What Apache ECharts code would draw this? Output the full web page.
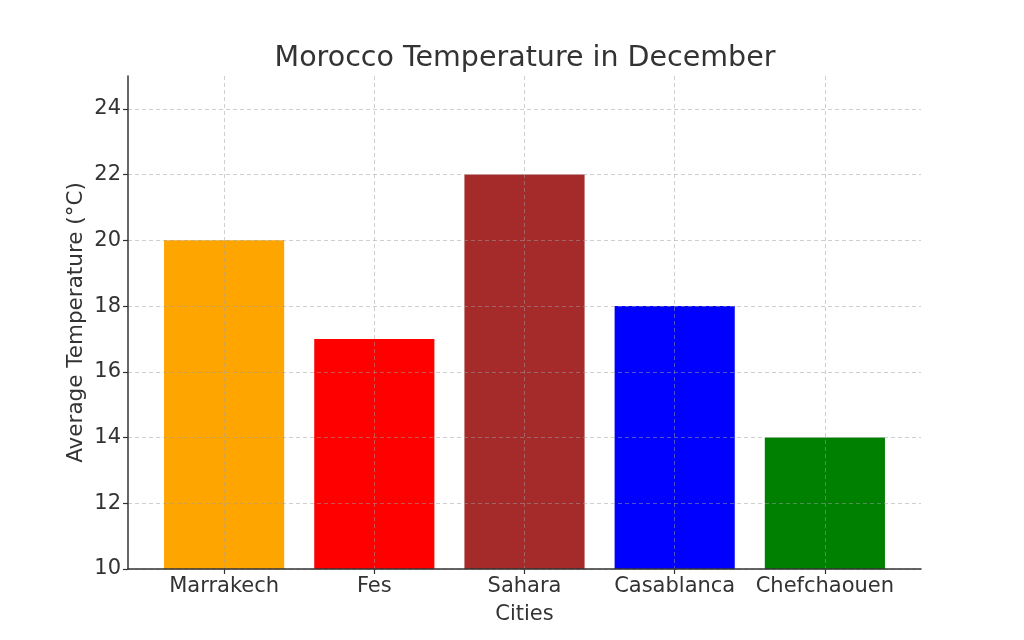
<!DOCTYPE html>
<html>
<head>
<meta charset="utf-8">
<script src="https://cdn.jsdelivr.net/npm/echarts@6/dist/echarts.min.js"></script>
<style>html,body{margin:0;padding:0;background:#fff}#c{width:1024px;height:640px}</style>
</head>
<body>
<div id="c"></div>
<script>
const cities = ['Marrakech', 'Fes', 'Sahara', 'Casablanca', 'Chefchaouen'];
const temps = [20, 17, 22, 18, 14];
const colors = ['#FFA500', '#FF0000', '#A52A2A', '#0000FF', '#008000'];
const yTicks = [10, 12, 14, 16, 18, 20, 22, 24];
const xTicks = [0, 1, 2, 3, 4];

const font = 'DejaVu Sans';
const txt = '#333333';
const chart = echarts.init(document.getElementById('c'), null, {renderer: 'canvas'});
chart.setOption({
  animation: false,
  backgroundColor: '#ffffff',
  title: {
    text: 'Morocco Temperature in December',
    left: 520, top: 39, textAlign: 'center',
    textStyle: {fontFamily: font, fontSize: 28.5, fontWeight: 'normal', color: txt}
  },
  grid: {left: 128, right: 103, top: 76, bottom: 71, containLabel: false},
  xAxis: {
    type: 'value', min: -0.64, max: 4.64, z: 5,
    name: 'Cities', nameLocation: 'middle', nameGap: 35,
    nameTextStyle: {fontFamily: font, fontSize: 21, color: txt},
    axisLine: {show: true, onZero: false, lineStyle: {color: '#333', width: 1.5}},
    axisTick: {show: true, customValues: xTicks, length: 5, lineStyle: {color: '#333', width: 1.2}},
    axisLabel: {customValues: xTicks, formatter: v => cities[Math.round(v)] || '', fontFamily: font, fontSize: 21, color: txt, margin: 7},
    splitLine: {show: true, lineStyle: {color: 'rgba(160,160,160,0.5)', type: [4, 3], width: 1}}
  },
  yAxis: {
    type: 'value', min: 10, max: 25, z: 5,
    name: 'Average Temperature (°C)', nameLocation: 'middle', nameGap: 41, nameRotate: 90,
    nameMoveOverlap: false,
    nameTextStyle: {fontFamily: font, fontSize: 21.5, color: txt},
    axisLine: {show: true, onZero: false, lineStyle: {color: '#333', width: 1.5}},
    axisTick: {show: true, customValues: yTicks, length: 5, lineStyle: {color: '#333', width: 1.2}},
    axisLabel: {customValues: yTicks, fontFamily: font, fontSize: 21, color: txt, margin: 7, padding: [6, 0, 0, 0]},
    splitLine: {show: true, lineStyle: {color: 'rgba(160,160,160,0.5)', type: [4, 3], width: 1}}
  },
  series: [{
    type: 'bar',
    barWidth: '80%',
    data: temps.map((t, i) => ({value: [xTicks[i], t], itemStyle: {color: colors[i]}}))
  }]
});
</script>
</body>
</html>
